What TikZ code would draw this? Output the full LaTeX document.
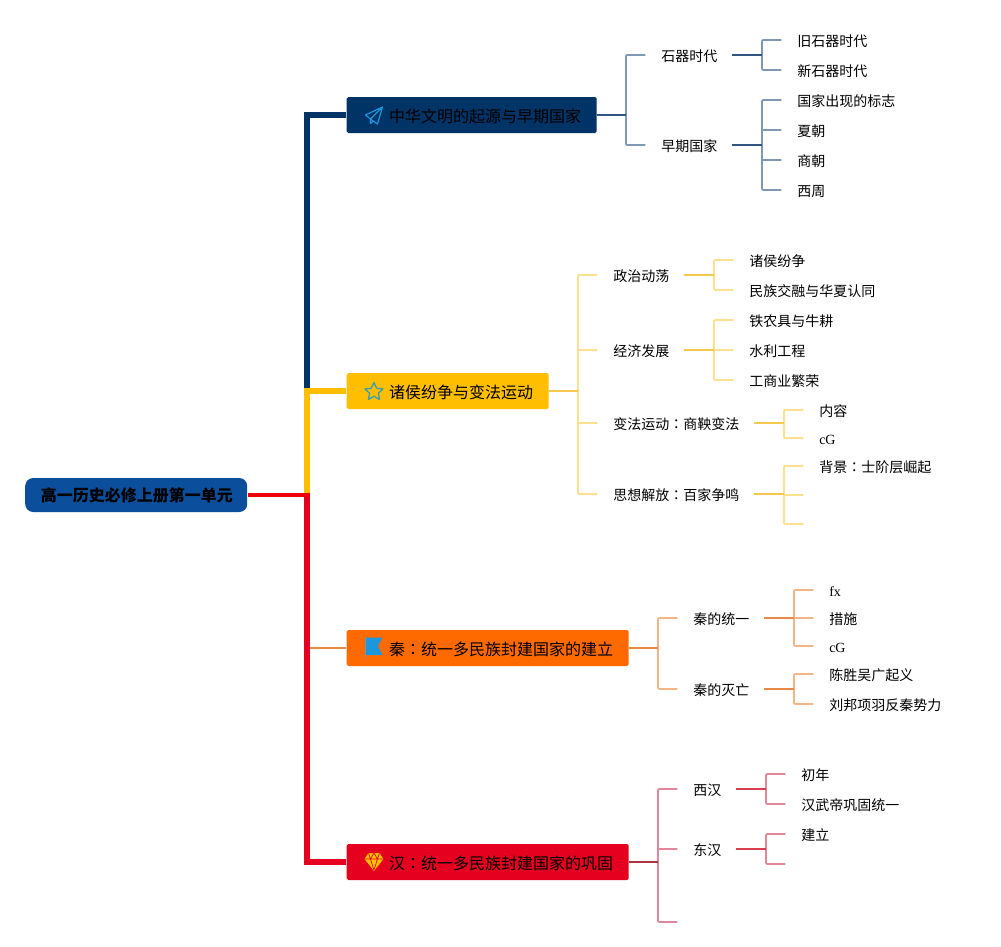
\documentclass[tikz,border=0pt]{standalone}
\usepackage{fontspec}
\setmainfont{Liberation Serif}
\newfontfamily\cjk{Noto Sans CJK SC}
\newfontfamily\cjktc{Noto Sans CJK TC}
\newcommand{\cln}{{\cjktc ：}}
\definecolor{cnavy}{HTML}{003366}
\definecolor{cyel}{HTML}{FFBF00}
\definecolor{cora}{HTML}{FF6A00}
\definecolor{cred}{HTML}{E6001F}
\definecolor{croot}{HTML}{0B4F9C}
\definecolor{cicon}{HTML}{1C96DC}
\definecolor{cstar}{HTML}{3F9FA6}
\definecolor{sn}{HTML}{2F5580}\definecolor{tn}{HTML}{7F99B5}
\definecolor{sy}{HTML}{F5C94E}\definecolor{ty}{HTML}{FBE08E}
\definecolor{so}{HTML}{E88A45}\definecolor{to}{HTML}{F4B483}
\definecolor{sr}{HTML}{D8404F}\definecolor{tr}{HTML}{E08899}
\tikzset{
  x=0.75pt,y=-0.75pt,
  nudge/.style={execute at begin node=\hspace{0.4pt},execute at end node=\hspace{-0.4pt}},
  rootbox/.style={nudge,fill=croot,rounded corners=6pt,minimum height=25.5pt,inner sep=0pt,anchor=west,text=black,font=\cjk\bfseries\fontsize{12}{14}\selectfont},
  mainbox/.style={fill=#1,rounded corners=1.2pt,minimum height=27pt,inner sep=0pt,anchor=west},
  maintxt/.style={anchor=west,inner sep=0pt,font=\cjk\fontsize{12}{14}\selectfont},
  txt/.style={nudge,anchor=west,inner xsep=11.25pt,inner ysep=0pt,text height=10pt,text depth=0.5pt,font=\cjk\fontsize{10.5}{13}\selectfont},
  lat/.style={nudge,anchor=west,inner xsep=11.25pt,inner ysep=0pt,text height=10pt,text depth=0.5pt,font=\fontsize{10.5}{13}\selectfont},
  trunk/.style={line width=4.4pt,draw=#1},
  stem/.style={line width=1.5pt,draw=#1},
  twig/.style={line width=1.25pt,draw=#1,rounded corners=0.8pt},
}
\begin{document}
\begin{tikzpicture}
\useasboundingbox (0,0) rectangle (1001,947);
\begin{scope}[xshift=-0.4pt]

% root and main branches
\node[rootbox,minimum width=166.5pt] (root) at (25.5,495) {高一历史必修上册第一单元};
\node[mainbox=cnavy,minimum width=187.5pt] (b1) at (347,115) {};
\node[mainbox=cyel,minimum width=151.5pt] (b2) at (347,391) {};
\node[mainbox=cora,minimum width=211.5pt] (b3) at (347,648) {};
\node[mainbox=cred,minimum width=211.5pt] (b4) at (347,862) {};
\node[maintxt] (t1) at (389.5,116) {中华文明的起源与早期国家};
\node[maintxt] (t2) at (389.5,392) {诸侯纷争与变法运动};
\node[maintxt] (t3) at (389.5,649) {秦\cln 统一多民族封建国家的建立};
\node[maintxt] (t4) at (389.5,863) {汉\cln 统一多民族封建国家的巩固};

\coordinate (j) at (307.5,495);
\draw[line width=1.6pt,draw=so] (j |- b3.west) -- (b3.west);
\draw[trunk=cnavy] (j) -- (j |- b1.west) -- (b1.west);
\draw[trunk=cyel] (j) -- (j |- b2.west) -- (b2.west);
\draw[line width=3.9pt,draw=cred] (j) -- (j |- b4.west) -- (b4.west);
\draw[line width=3.7pt,draw=red!94!black] (root.east) -- ([xshift=1.9pt]j);

% branch 1
\node[txt] (a1) at (646,55) {石器时代};
\node[txt] (a2) at (646,145) {早期国家};
\node[txt] (a11) at (782,40) {旧石器时代};
\node[txt] (a12) at (782,70) {新石器时代};
\node[txt] (a21) at (782,100) {国家出现的标志};
\node[txt] (a22) at (782,130) {夏朝};
\node[txt] (a23) at (782,160) {商朝};
\node[txt] (a24) at (782,190) {西周};
\foreach \c in {a1,a2} \draw[twig=tn] (b1.east) ++(29,0) |- (\c.west);
\draw[stem=sn] (b1.east) -- ++(29,0);
\foreach \c in {a11,a12} \draw[twig=tn] (a1.east) ++(30,0) |- (\c.west);
\draw[stem=sn] (a1.east) -- ++(30,0);
\foreach \c in {a21,a22,a23,a24} \draw[twig=tn] (a2.east) ++(30,0) |- (\c.west);
\draw[stem=sn] (a2.east) -- ++(30,0);

% branch 2
\node[txt] (c1) at (598,275) {政治动荡};
\node[txt] (c2) at (598,350) {经济发展};
\node[txt] (c3) at (598,423) {变法运动\cln 商鞅变法};
\node[txt] (c4) at (598,494) {思想解放\cln 百家争鸣};
\node[txt] (c11) at (734,260) {诸侯纷争};
\node[txt] (c12) at (734,290) {民族交融与华夏认同};
\node[txt] (c21) at (734,320) {铁农具与牛耕};
\node[txt] (c22) at (734,350) {水利工程};
\node[txt] (c23) at (734,380) {工商业繁荣};
\node[txt] (c31) at (804,410) {内容};
\node[lat] (c32) at (804,438) {cG};
\node[txt] (c41) at (804,466) {背景\cln 士阶层崛起};
\coordinate (c42) at (804,495);
\coordinate (c43) at (804,524);
\foreach \c in {c1,c2,c3,c4} \draw[twig=ty] (b2.east) ++(29,0) |- (\c.west);
\draw[stem=sy] (b2.east) -- ++(29,0);
\foreach \c in {c11,c12} \draw[twig=ty] (c1.east) ++(30,0) |- (\c.west);
\draw[stem=sy] (c1.east) -- ++(30,0);
\foreach \c in {c21,c22,c23} \draw[twig=ty] (c2.east) ++(30,0) |- (\c.west);
\draw[stem=sy] (c2.east) -- ++(30,0);
\foreach \c in {c31,c32} \draw[twig=ty] (c3.east) ++(30,0) |- (\c.west);
\draw[stem=sy] (c3.east) -- ++(30,0);
\foreach \c in {c41.west,c42,c43} \draw[twig=ty] (c4.east) ++(30,0) |- (\c);
\draw[stem=sy] (c4.east) -- ++(30,0);

% branch 3
\node[txt] (d1) at (678,618) {秦的统一};
\node[txt] (d2) at (678,689) {秦的灭亡};
\node[lat] (d11) at (814,590) {fx};
\node[txt] (d12) at (814,618) {措施};
\node[lat] (d13) at (814,646) {cG};
\node[txt] (d21) at (814,674) {陈胜吴广起义};
\node[txt] (d22) at (814,704) {刘邦项羽反秦势力};
\foreach \c in {d1,d2} \draw[twig=to] (b3.east) ++(29,0) |- (\c.west);
\draw[stem=so] (b3.east) -- ++(29,0);
\foreach \c in {d11,d12,d13} \draw[twig=to] (d1.east) ++(30,0) |- (\c.west);
\draw[stem=so] (d1.east) -- ++(30,0);
\foreach \c in {d21,d22} \draw[twig=to] (d2.east) ++(30,0) |- (\c.west);
\draw[stem=so] (d2.east) -- ++(30,0);

% branch 4
\node[txt] (e1) at (678,789) {西汉};
\node[txt] (e2) at (678,849) {东汉};
\coordinate (e3) at (678,922);
\node[txt] (e11) at (786,774) {初年};
\node[txt] (e12) at (786,804) {汉武帝巩固统一};
\node[txt] (e21) at (786,834) {建立};
\coordinate (e22) at (786,864);
\foreach \c in {e1.west,e2.west,e3} \draw[twig=tr] (b4.east) ++(29,0) |- (\c);
\draw[stem=sr!80!black] (b4.east) -- ++(29,0);
\foreach \c in {e11,e12} \draw[twig=tr] (e1.east) ++(30,0) |- (\c.west);
\draw[stem=sr] (e1.east) -- ++(30,0);
\foreach \c in {e21.west,e22} \draw[twig=tr] (e2.east) ++(30,0) |- (\c);
\draw[stem=sr] (e2.east) -- ++(30,0);

% icons
\draw[cicon,line width=0.9pt,line join=round] (383,107) -- (366,115) -- (371,119) -- (383,107) -- (378,124) -- (371,119) -- (371,123.5) -- (374,121);
\draw[cstar,line width=1pt,line join=round]
  (374.5,382.5) -- (377.2,388.3) -- (383.5,389) -- (378.8,393.3) -- (380.1,399.5) -- (374.5,396.3) -- (368.9,399.5) -- (370.2,393.3) -- (365.5,389) -- (371.8,388.3) -- cycle;
\fill[cicon] (365.5,637.5) -- (383,637.5) -- (378.5,646) -- (383,655) -- (365.5,655) -- cycle;
\draw[so!60!cicon,line width=0.6pt] (365.5,637.5) -- (365.5,659);
\fill[cyel] (369,853) -- (380,853) -- (384,859) -- (374.5,871) -- (365,859) -- cycle;
\draw[cred,line width=0.5pt] (365,859) -- (384,859) (371,859) -- (374.5,870) -- (378,859) (369,853) -- (371,859) -- (374.5,853) -- (378,859) -- (380,853);
\end{scope}
\end{tikzpicture}
\end{document}
